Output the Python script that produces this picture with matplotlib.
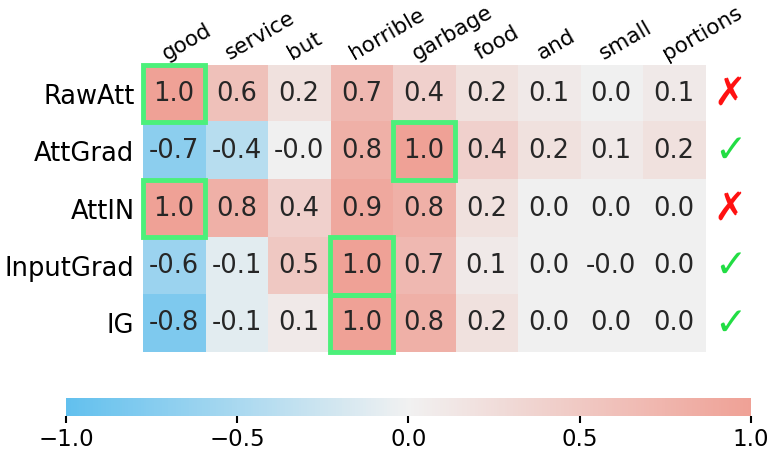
import numpy as np
import matplotlib
matplotlib.use("Agg")
import matplotlib.pyplot as plt
from matplotlib.colors import LinearSegmentedColormap
from matplotlib.patches import Rectangle
import matplotlib.transforms as mtransforms

tokens = ["good", "service", "but", "horrible", "garbage", "food", "and", "small", "portions"]
methods = ["RawAtt", "AttGrad", "AttIN", "InputGrad", "IG"]
scores = [
    [1.0, 0.6, 0.2, 0.7, 0.4, 0.2, 0.1, 0.0, 0.1],
    [-0.7, -0.4, -0.0, 0.8, 1.0, 0.4, 0.2, 0.1, 0.2],
    [1.0, 0.8, 0.4, 0.9, 0.8, 0.2, 0.0, 0.0, 0.0],
    [-0.6, -0.1, 0.5, 1.0, 0.7, 0.1, 0.0, -0.0, 0.0],
    [-0.8, -0.1, 0.1, 1.0, 0.8, 0.2, 0.0, 0.0, 0.0],
]
# (row, col) of the top-scored token per method
top_cells = [(0, 0), (1, 4), (2, 0), (3, 3), (4, 3)]
correct = [False, True, False, True, True]

cmap = LinearSegmentedColormap.from_list("att", ["#62c0ee", "#f1f1f1", "#efa196"])

fig = plt.figure(figsize=(7.72, 4.61), dpi=100)
ax = fig.add_axes([0.185, 0.236, 0.728, 0.623])
cax = fig.add_axes([0.0855, 0.0976, 0.887, 0.039])

data = np.array(scores)
im = ax.imshow(data, cmap=cmap, vmin=-1, vmax=1, aspect="auto")

for i in range(data.shape[0]):
    for j in range(data.shape[1]):
        ax.text(j, i, f"{data[i, j]:.1f}", ha="center", va="center",
                fontsize=18.5, color="#262626")

for r, c in top_cells:
    ax.add_patch(Rectangle((c - 0.5, r - 0.5), 1, 1, fill=False,
                           edgecolor="#4cf07a", linewidth=3.5, clip_on=False))

for i, ok in enumerate(correct):
    ax.text(1.045, i, "\u2713" if ok else "\u2717",
            transform=mtransforms.blended_transform_factory(ax.transAxes, ax.transData),
            ha="center", va="center", fontsize=28, fontweight="bold",
            color="#22dd44" if ok else "#ff1111")

# labels start a bit left of the cell centre, like the original
ax.xaxis.tick_top()
ax.set_xticks(np.arange(len(tokens)) - 0.08)
ax.set_xticklabels(tokens, rotation=30, ha="left", rotation_mode="anchor", fontsize=15.5)
ax.set_yticks(range(len(methods)))
ax.set_yticklabels(methods, fontsize=18.5)
ax.tick_params(length=0, pad=6)
ax.tick_params(axis="x", pad=1)
ax.set_xlim(-0.5, len(tokens) - 0.5)
for s in ax.spines.values():
    s.set_visible(False)

cb = fig.colorbar(im, cax=cax, orientation="horizontal", ticks=[-1, -0.5, 0, 0.5, 1])
cb.outline.set_visible(False)
cb.ax.tick_params(labelsize=16.5, length=5, width=1.5)

fig.savefig("out.png", dpi=100)
